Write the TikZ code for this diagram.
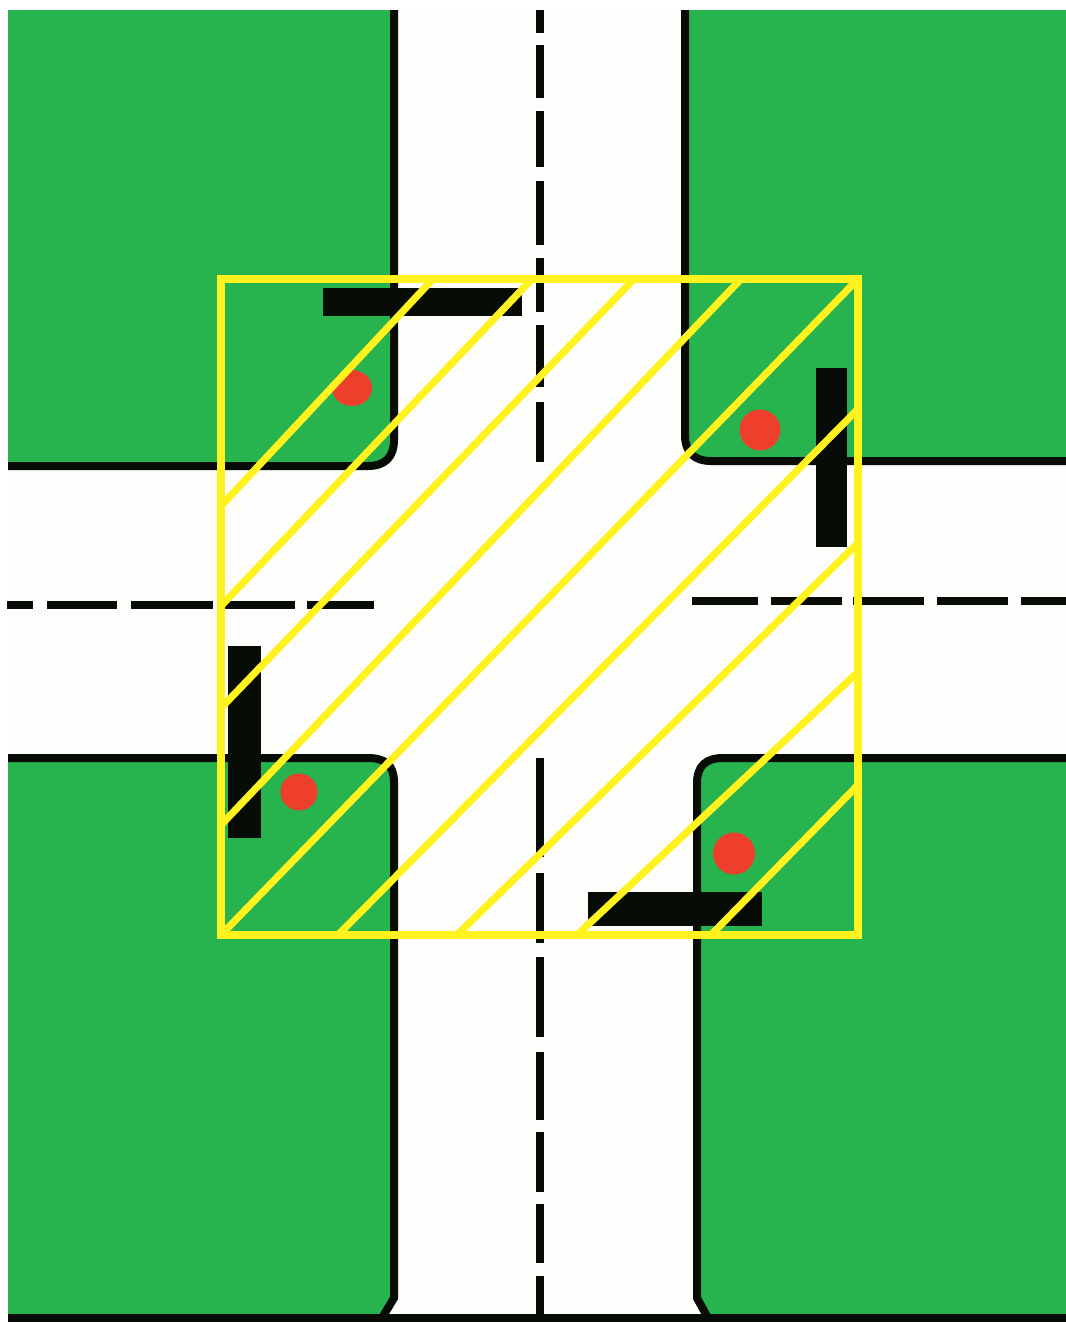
\documentclass[tikz,border=0pt]{standalone}
\definecolor{blockgreen}{RGB}{39,179,77}
\definecolor{roadwhite}{RGB}{253,254,252}
\definecolor{markblack}{RGB}{8,12,6}
\definecolor{zoneyellow}{RGB}{255,242,30}
\definecolor{signalred}{RGB}{238,63,44}
\tikzset{every picture/.style={line width=0.75pt}}
\tikzset{
  block/.style={fill=blockgreen,draw=none},
  kerb/.style={draw=markblack,line width=6pt},
  centreline/.style={draw=markblack,line width=6pt},
  stopbar/.style={fill=markblack,draw=none},
  signal/.style={fill=signalred,draw=none},
  zoneedge/.style={draw=zoneyellow,line width=6.6pt,line join=miter},
  hatch/.style={draw=zoneyellow,line width=5.4pt},
}

\begin{document}
\begin{tikzpicture}[x=0.75pt,y=0.75pt,yscale=-1,xscale=1]
\useasboundingbox (0,0) rectangle (1066,1322);

%Shape: Rectangle [road surface]
\fill [white] (0,0) rectangle (1066,1322);
\fill [roadwhite] (8,10) rectangle (1066,1318);

%Shape: Blocks
\path [block] (8,10) -- (394,10) -- (394,440) .. controls (394,457) and (385,466) .. (368,466) -- (8,466) -- cycle ;
\path [block] (1066,10) -- (685,10) -- (685,435) .. controls (685,452) and (694,461) .. (711,461) -- (1066,461) -- cycle ;
\path [block] (8,758) -- (368,758) .. controls (385,758) and (394,765) .. (394,782) -- (394,1298) -- (382,1318) -- (8,1318) -- cycle ;
\path [block] (1066,758) -- (723,758) .. controls (706,758) and (697,766) .. (697,783) -- (697,1298) -- (708,1318) -- (1066,1318) -- cycle ;

%Shape: Circle [signals]
\path [signal] (352,388) ellipse (20 and 18);
\path [signal] (760,430) circle (20.5);
\path [signal] (299,792) circle (18.5);
\path [signal] (734,853.5) circle (21);

%Shape: Rectangle [stop bars]
\path [stopbar] (323,288) rectangle (522,316);
\path [stopbar] (816,368) rectangle (847,547);
\path [stopbar] (228,646) rectangle (261,838);
\path [stopbar] (588,892) rectangle (762,926);

%Straight Lines [kerbs]
\draw [kerb] (394,10) -- (394,440) .. controls (394,457) and (385,466) .. (368,466) -- (8,466) ;
\draw [kerb] (685,10) -- (685,435) .. controls (685,452) and (694,461) .. (711,461) -- (1066,461) ;
\draw [kerb] (8,758) -- (368,758) .. controls (385,758) and (394,765) .. (394,782) -- (394,1298) -- (382,1318) ;
\draw [kerb] (1066,758) -- (723,758) .. controls (706,758) and (697,766) .. (697,783) -- (697,1298) -- (708,1318) ;
\draw [kerb] (8,1318) -- (1066,1318) ;

%Straight Lines [centre lines]
\draw [centreline] (540,10) -- (540,33) (540,45) -- (540,98) (540,111) -- (540,167) (540,181) -- (540,245) (540,258) -- (540,312) (540,325) -- (540,387) (540,402) -- (540,462) ;
\draw [centreline] (540,758) -- (540,857) (540,873) -- (540,943) (540,957) -- (540,1037) (540,1052) -- (540,1120) (540,1132) -- (540,1192) (540,1204) -- (540,1263) (540,1276) -- (540,1318) ;
\draw [centreline] (7,605) -- (33,605) (47,605) -- (117,605) (131,605) -- (213,605) (217,605) -- (295,605) (307,605) -- (374,605) ;
\draw [centreline] (692,601) -- (758,601) (771,601) -- (842,601) (853,601) -- (924,601) (937,601) -- (1008,601) (1021,601) -- (1066,601) ;

%Straight Lines [hatching]
\draw [hatch] (433,279) -- (221,506) ;
\draw [hatch] (532,279) -- (221,606) ;
\draw [hatch] (634,279) -- (221,708) ;
\draw [hatch] (741,279) -- (221,825) ;
\draw [hatch] (858,279) -- (221,935) ;
\draw [hatch] (858,409) -- (338,935) ;
\draw [hatch] (858,543) -- (457,935) ;
\draw [hatch] (858,672) -- (577,935) ;
\draw [hatch] (858,785) -- (711,935) ;

%Shape: Square [zone]
\draw [zoneedge] (221,279) rectangle (858,935) ;

\end{tikzpicture}
\end{document}
